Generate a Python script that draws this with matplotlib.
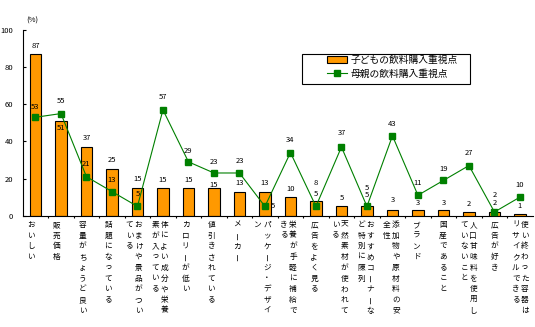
import matplotlib
matplotlib.use("Agg")
import matplotlib.pyplot as plt
import numpy as np
from matplotlib.patches import Rectangle, Patch
from matplotlib.lines import Line2D

plt.rcParams['font.family'] = ['Noto Sans CJK JP', 'DejaVu Sans']

# ------------------------------------------------------------
# data
# ------------------------------------------------------------
categories = [
    "おいしい", "販売価格", "容量がちょうど良い", "話題になっている",
    "おまけや景品がついている", "体によい成分や栄養素が入っている",
    "カロリーが低い", "値引きされている", "メーカー", "パッケージ・デザイン",
    "栄養が手軽に補給できる", "広告をよく見る", "天然素材が使われている",
    "おすすめコーナーなど特別に陳列", "添加物や原材料の安全性", "ブランド",
    "国産であること", "人口甘味料を使用していないこと", "広告が好き",
    "使い終わった容器はリサイクルできる",
]
child = [87, 51, 37, 25, 15, 15, 15, 15, 13, 13, 10, 8, 5, 5, 3, 3, 3, 2, 2, 1]
mother = [53, 55, 21, 13, 5, 57, 29, 23, 23, 5, 34, 5, 37, 5, 43, 11, 19, 27, 2, 10]
child_name = "子どもの飲料購入重視点"
mother_name = "母親の飲料購入重視点"
yticks = [0, 20, 40, 60, 80, 100]

# label offsets in pixels (above the point)
bar_dy = [8, -7, 9, 9, 9, 8, 8, 3, 8.5, 8.5, 8, 17.5, 8.7, 11, 10, 7.4, 7.4, 8, 9, 7.8]
line_dy = [10.6, 12.6, 12.4, 11.6, 12.4, 13, 11, 11, 12, 0, 12.6, 12, 13.7, 18, 11.6, 12, 11, 13, 16.5, 12]
line_dx = [0] * 9 + [8] + [0] * 10

W, H = 535, 327
PX = 0.72  # points per pixel at 100 dpi
ORANGE = '#FF9900'
GREEN = '#008000'

# ------------------------------------------------------------
# figure
# ------------------------------------------------------------
fig = plt.figure(figsize=(W / 100, H / 100), dpi=100)
ax = fig.add_axes([22.7 / W, 1 - 215.7 / H, 510 / W, 185.7 / H])

x = np.arange(len(categories))
ax.bar(x, child, width=0.46, color=ORANGE, edgecolor='black', linewidth=0.8, zorder=2)
ax.plot(x, mother, color=GREEN, lw=0.8, marker='s', ms=4, zorder=3)

ax.set_xlim(-0.5, len(categories) - 0.5)
ax.set_ylim(0, 100)
ax.set_yticks(yticks)
ax.set_yticklabels([str(t) for t in yticks])
ax.tick_params(axis='y', direction='in', length=2.5, width=0.8, pad=7, labelsize=5.5)
ax.set_xticks(np.arange(0.5, len(categories) - 1, 1))
ax.tick_params(axis='x', direction='out', length=1.5, width=0.8, labelbottom=False)
for s in ['top', 'right']:
    ax.spines[s].set_visible(False)
for s in ['left', 'bottom']:
    ax.spines[s].set_linewidth(0.8)

# value labels
for i, v in enumerate(child):
    ax.annotate(str(v), xy=(i, v), xytext=(0, bar_dy[i] * PX), textcoords='offset points',
                ha='center', va='center', fontsize=5.5, zorder=4)
for i, v in enumerate(mother):
    ax.annotate(str(v), xy=(i, v), xytext=(line_dx[i] * PX, line_dy[i] * PX),
                textcoords='offset points', ha='center', va='center', fontsize=5.5, zorder=4)

# vertical category labels (columns right to left, 9 chars each)
for i, lab in enumerate(categories):
    cols = [lab[k:k + 9] for k in range(0, len(lab), 9)]
    n = len(cols)
    base = -4.5 + i * 0.25
    for j, col in enumerate(cols):
        dx = base + ((n - 1) / 2 - j) * 9
        for k, ch in enumerate(col):
            dy = -(9.3 + k * 10.7)
            ax.annotate(ch, xy=(i, 0), xycoords=('data', 'axes fraction'),
                        xytext=(dx * PX, dy * PX), textcoords='offset points',
                        ha='center', va='center', fontsize=5.5,
                        rotation=90 if ch == 'ー' else 0)

# unit
fig.text(32 / W, 1 - 21 / H, '(%)', ha='center', va='center', fontsize=5.5)

# legend with a hand-drawn frame
handles = [Patch(facecolor=ORANGE, edgecolor='black', lw=0.8),
           Line2D([], [], color=GREEN, lw=0.8, marker='s', ms=4)]
fig.legend(handles, [child_name, mother_name], loc='upper left',
           bbox_to_anchor=(327 / W, 1 - 55 / H), frameon=False, fontsize=7,
           handlelength=2.1, handletextpad=0.3, borderpad=0, labelspacing=0.4,
           borderaxespad=0)
fig.add_artist(Rectangle((301.7 / W, 1 - 84.3 / H), 168.3 / W, 30 / H,
                         transform=fig.transFigure, fill=False, edgecolor='black', lw=0.8))

fig.savefig('out.png', dpi=100)
